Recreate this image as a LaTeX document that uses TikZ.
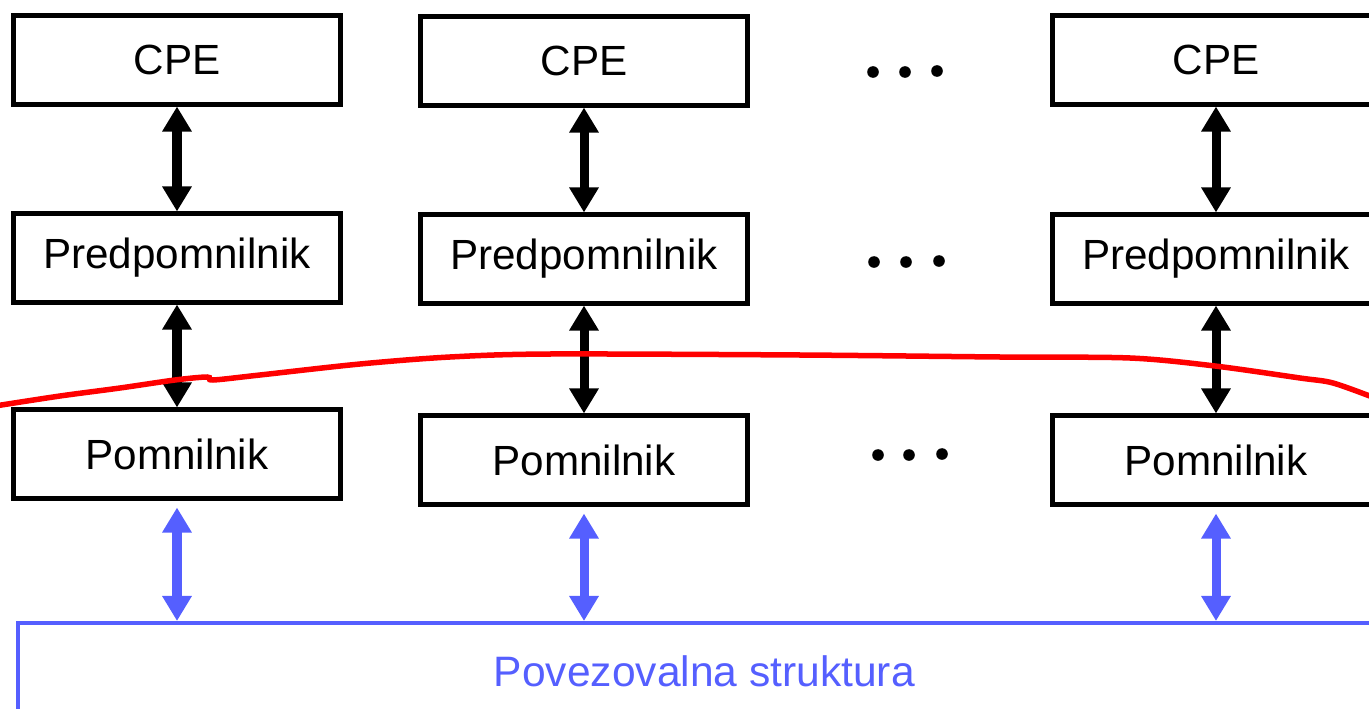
\documentclass[tikz,border=0pt]{standalone}
\usepackage{fontspec}
\setmainfont{Liberation Sans}
\usepackage{tikz}
\usetikzlibrary{arrows.meta, positioning}
\definecolor{netblue}{RGB}{85,95,255}

\begin{document}
\begin{tikzpicture}[x=0.01cm, y=-0.01cm,
			unit/.style={draw, line width=0.05cm, rectangle, inner sep=0pt, minimum width=3.27cm, minimum height=0.88cm, font=\fontsize{12}{14}\selectfont},
			link/.style={line width=0.09cm, {Triangle[width=0.28cm,length=0.25cm]}-{Triangle[width=0.28cm,length=0.25cm]}},
			netlink/.style={link, netblue, shorten <=0.07cm},
			network/.style={draw=netblue, text=netblue, line width=0.04cm, rectangle, anchor=north west, minimum width=13.72cm, minimum height=0.96cm, font=\fontsize{12.1}{14}\selectfont}
			]
			\useasboundingbox (0,0) rectangle (1369,709);
			\node [unit](cpe1) at (177,60) {CPE};
			\node [unit](pred1) at (177,258) {Predpomnilnik};
			\node [unit](pom1) at (177,454) {Pomnilnik};
			\node [unit](cpe2) at (584,61) {CPE};
			\node [unit](pred2) at (584,259) {Predpomnilnik};
			\node [unit](pom2) at (584,460) {Pomnilnik};
			\node [unit](cpe3) at (1216,60) {CPE};
			\node [unit](pred3) at (1216,259) {Predpomnilnik};
			\node [unit](pom3) at (1216,460) {Pomnilnik};
			\node [network](net) at (16,621) {Povezovalna struktura};
			
			% tri pike med stolpci
			\fill (873,72) circle (0.058cm) (905,72) circle (0.058cm) (937,71) circle (0.058cm);
			\fill (874,262) circle (0.058cm) (906,262) circle (0.058cm) (939,261) circle (0.058cm);
			\fill (878,455) circle (0.058cm) (909,455) circle (0.058cm) (942,454) circle (0.058cm);
			
			\draw[link] (cpe1) -- (pred1);
			\draw[link] (pred1) -- (pom1);
			\draw[link] (cpe2) -- (pred2);
			\draw[link] (pred2) -- (pom2);
			\draw[link] (cpe3) -- (pred3);
			\draw[link] (pred3) -- (pom3);
			\draw[netlink] (pom1) -- (pom1 |- net.north);
			\draw[netlink] (pom2) -- (pom2 |- net.north);
			\draw[netlink] (pom3) -- (pom3 |- net.north);
			
			% rdeca meja
			\draw[red, line width=0.055cm] plot[smooth, tension=0.5] coordinates {(-5,406) (60,396) (120,388) (175,380) (207,377) (213,380) (260,375) (360,364) (450,357) (550,354) (800,355) (1000,357) (1130,358) (1215,366) (1300,378) (1333,383) (1375,398)};
		\end{tikzpicture}
\end{document}
